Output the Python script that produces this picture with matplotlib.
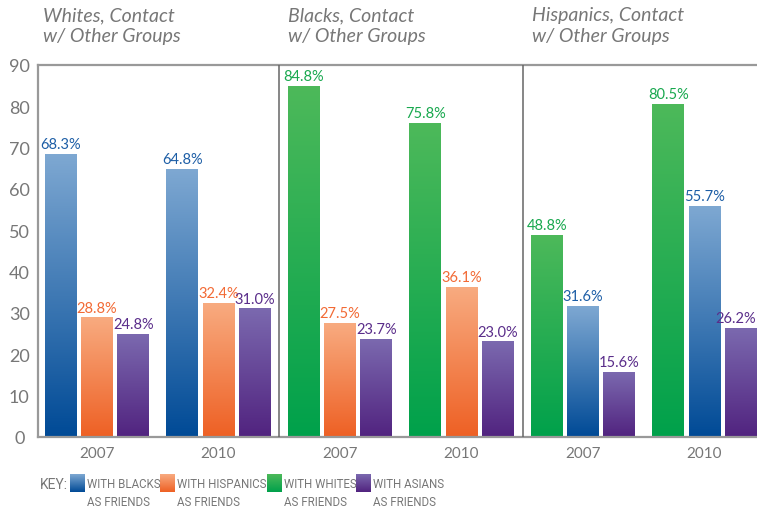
import numpy as np
import matplotlib
matplotlib.use("Agg")
import matplotlib.pyplot as plt
from matplotlib.colors import LinearSegmentedColormap

# panel titles and years
panel_titles = ["Whites, Contact\nw/ Other Groups",
                "Blacks, Contact\nw/ Other Groups",
                "Hispanics, Contact\nw/ Other Groups"]
years = ["2007", "2010"]

# values (% with friends of other group), per year
whites_w_blacks = [68.3, 64.8]
whites_w_hispanics = [28.8, 32.4]
whites_w_asians = [24.8, 31.0]
blacks_w_whites = [84.8, 75.8]
blacks_w_hispanics = [27.5, 36.1]
blacks_w_asians = [23.7, 23.0]
hispanics_w_whites = [48.8, 80.5]
hispanics_w_blacks = [31.6, 55.7]
hispanics_w_asians = [15.6, 26.2]

key_labels = ["WITH BLACKS\nAS FRIENDS", "WITH HISPANICS\nAS FRIENDS",
              "WITH WHITES\nAS FRIENDS", "WITH ASIANS\nAS FRIENDS"]

# gradient (bottom, top) and label colour per series
styles = {
    "blacks": ("#004a96", "#7ea8d2", "#1d5ea6"),
    "hispanics": ("#ee6024", "#f8ab80", "#f26a35"),
    "whites": ("#00a14b", "#4db95a", "#18a84e"),
    "asians": ("#51237f", "#7b69af", "#5a2d8a"),
}

panels = [
    [("blacks", whites_w_blacks), ("hispanics", whites_w_hispanics), ("asians", whites_w_asians)],
    [("whites", blacks_w_whites), ("hispanics", blacks_w_hispanics), ("asians", blacks_w_asians)],
    [("whites", hispanics_w_whites), ("blacks", hispanics_w_blacks), ("asians", hispanics_w_asians)],
]

W, H = 757, 510
fig = plt.figure(figsize=(W / 100, H / 100), dpi=100)
ax = fig.add_axes([38 / W, 1 - 438 / H, (757 - 38) / W, (438 - 66) / H])
ax.set_xlim(38, 757)
ax.set_ylim(0, 90)

grad = np.linspace(0, 1, 256).reshape(-1, 1)
gray = "#777777"
font = "Lato"
key_font = dict(family="Roboto", fontsize=8.3)

bar_w = 32
step = 36.3
group_x0 = 97
group_step = 121.5

for p, series in enumerate(panels):
    for yi in range(2):
        g = p * 2 + yi
        cx = group_x0 + g * group_step
        for k, (name, vals) in enumerate(series):
            v = vals[yi]
            bot, top, lc = styles[name]
            cmap = LinearSegmentedColormap.from_list(name, [bot, top])
            bx = cx + (k - 1) * step
            ax.imshow(grad, extent=[bx - bar_w / 2, bx + bar_w / 2, 0, v],
                      origin="lower", cmap=cmap, aspect="auto", zorder=2)
            lx, ha = (bx, "center") if bx + 19 < 756 else (756, "right")
            ax.text(lx, v + 0.8, f"{v:.1f}%", ha=ha, va="bottom",
                    color=lc, fontsize=10.5, family=font, zorder=3)
        ax.text(cx, -2.2, years[yi], ha="center", va="top", color=gray,
                fontsize=11, family=font)
    fig.text((43 + p * 244.5) / W, 1 - 7 / H, panel_titles[p],
             ha="left", va="top", color=gray, fontsize=14, style="italic",
             family=font, linespacing=1.3)

for xd in (279, 523):
    ax.axvline(xd, color="#666666", lw=1.1, zorder=4)

ax.set_xlim(38, 757)
ax.set_ylim(0, 90)
ax.set_xticks([])
ax.set_yticks(range(0, 91, 10))
ax.set_yticklabels([str(t) for t in range(0, 91, 10)], ha="center",
                   color=gray, fontsize=13, family=font)
ax.tick_params(axis="y", length=0, pad=13.5)
for s in ("left", "top", "bottom"):
    ax.spines[s].set_color("#999999")
    ax.spines[s].set_linewidth(1.6)
ax.spines["right"].set_visible(False)

# key
fig.text(68 / W, 1 - 485 / H, "KEY:", ha="right", va="center", color=gray,
         fontsize=10, family="Roboto")
key_names = ["blacks", "hispanics", "whites", "asians"]
swatch_x = [70, 160, 267, 356]
for name, lab, sx in zip(key_names, key_labels, swatch_x):
    bot, top, _ = styles[name]
    cmap = LinearSegmentedColormap.from_list(name + "_k", [bot, top])
    sax = fig.add_axes([sx / W, 1 - 493 / H, 15 / W, 18 / H])
    sax.imshow(grad, origin="lower", cmap=cmap, aspect="auto")
    sax.axis("off")
    fig.text((sx + 17) / W, 1 - 478 / H, lab, ha="left", va="top", color=gray,
             linespacing=1.5, **key_font)

fig.savefig("out.png", dpi=100)
